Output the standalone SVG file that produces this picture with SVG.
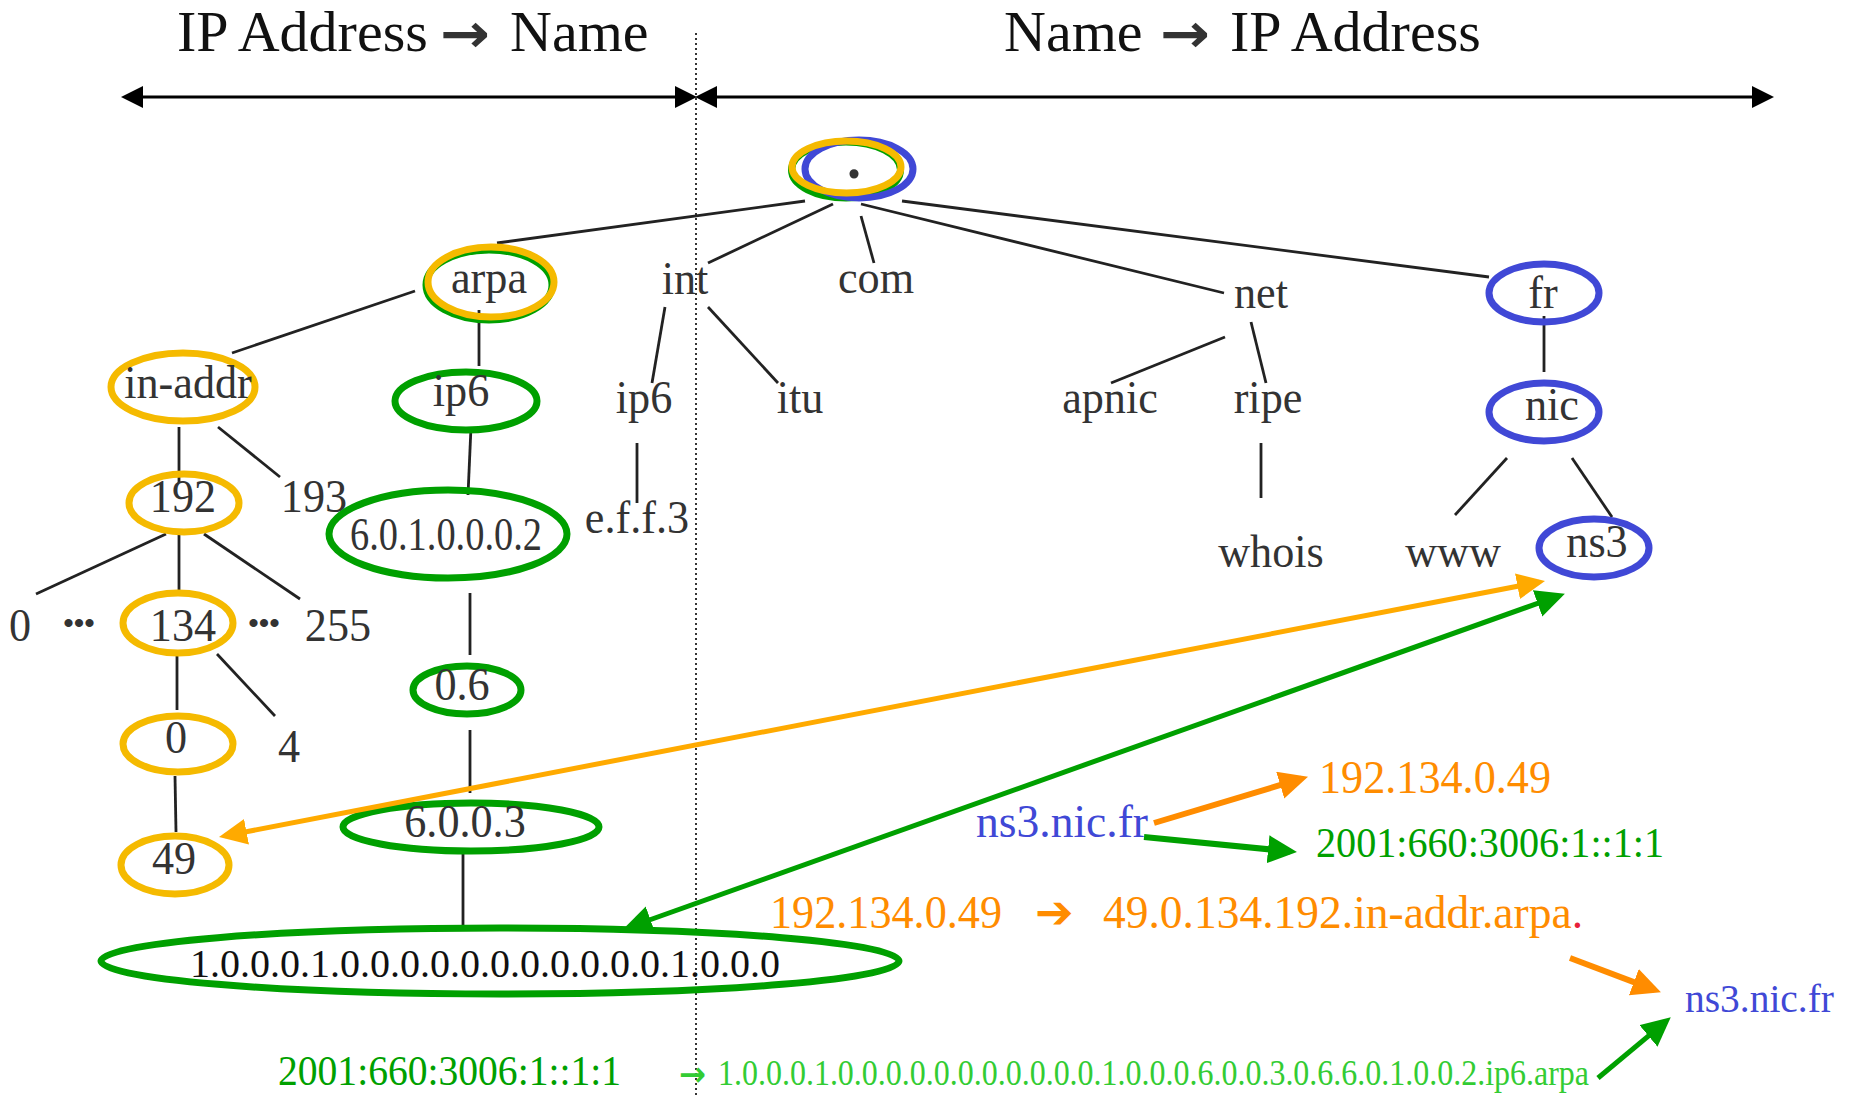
<svg xmlns="http://www.w3.org/2000/svg" width="1854" height="1095" viewBox="0 0 1854 1095">
<style>
.lbl{font-family:"Liberation Serif","Times New Roman",serif;font-size:47px;fill:#333;text-anchor:middle;transform-box:fill-box;transform-origin:center;transform:scaleX(0.94)}
.nt{font-family:"Liberation Serif","Times New Roman",serif;font-size:47px;fill:#333;text-anchor:middle}
.ttl{font-family:"Liberation Serif","Times New Roman",serif;font-size:58px;fill:#111}
.arw{font-family:"DejaVu Sans",sans-serif;font-weight:bold;font-size:54px;fill:#333}
.dots{font-family:"Liberation Serif",serif;font-size:30px;font-weight:bold;fill:#333;text-anchor:middle}
.edge{stroke:#222;stroke-width:2.8;fill:none}
.ye{fill:none;stroke:#F5BA00;stroke-width:7}
.ge{fill:none;stroke:#00A000;stroke-width:7}
.be{fill:none;stroke:#4048D6;stroke-width:7}
.ser{font-family:"Liberation Serif","Times New Roman",serif}
</style>
<defs>
<marker id="mk-black" markerUnits="userSpaceOnUse" markerWidth="24" markerHeight="24" refX="18" refY="11" orient="auto-start-reverse"><path d="M0,0 L22,11 L0,22 z" fill="#000"/></marker>
<marker id="mk-orange" markerUnits="userSpaceOnUse" markerWidth="30" markerHeight="28" refX="22" refY="13" orient="auto-start-reverse"><path d="M0,0 L28,13 L0,26 z" fill="#FFAA00"/></marker>
<marker id="mk-dorange" markerUnits="userSpaceOnUse" markerWidth="30" markerHeight="30" refX="22" refY="14" orient="auto-start-reverse"><path d="M0,0 L29,14 L0,28 z" fill="#FF8C00"/></marker>
<marker id="mk-green" markerUnits="userSpaceOnUse" markerWidth="30" markerHeight="30" refX="22" refY="14" orient="auto-start-reverse"><path d="M0,0 L29,14 L0,28 z" fill="#00A000"/></marker>
</defs>
<rect width="1854" height="1095" fill="#fff"/>

<g id="titles">
<text class="ttl" x="177" y="51">IP Address</text>
<text class="arw" x="440" y="52" textLength="50" lengthAdjust="spacingAndGlyphs">→</text>
<text class="ttl" x="510" y="51">Name</text>
<text class="ttl" x="1004" y="51" fill="#333">Name</text>
<text class="arw" x="1160" y="52" textLength="50" lengthAdjust="spacingAndGlyphs">→</text>
<text class="ttl" x="1230" y="51">IP Address</text>
</g>

<g id="frame">
<line x1="696" y1="33" x2="696" y2="1095" stroke="#333" stroke-width="2" stroke-dasharray="2 3"/>
<line x1="125" y1="97" x2="693" y2="97" stroke="#000" stroke-width="3" marker-start="url(#mk-black)" marker-end="url(#mk-black)"/>
<line x1="699" y1="97" x2="1770" y2="97" stroke="#000" stroke-width="3" marker-start="url(#mk-black)" marker-end="url(#mk-black)"/>
</g>

<g id="connectors">
<line class="edge" x1="805" y1="201" x2="497" y2="243"/>
<line class="edge" x1="833" y1="204" x2="708" y2="263"/>
<line class="edge" x1="861" y1="216" x2="874" y2="263"/>
<line class="edge" x1="861" y1="204" x2="1224" y2="293"/>
<line class="edge" x1="902" y1="201" x2="1489" y2="277"/>
<line class="edge" x1="415" y1="291" x2="232" y2="353"/>
<line class="edge" x1="479" y1="310" x2="479" y2="366"/>
<line class="edge" x1="179" y1="427" x2="179" y2="483"/>
<line class="edge" x1="218" y1="427" x2="280" y2="477"/>
<line class="edge" x1="471" y1="427" x2="468" y2="495"/>
<line class="edge" x1="665" y1="307" x2="652" y2="383"/>
<line class="edge" x1="708" y1="307" x2="778" y2="383"/>
<line class="edge" x1="637" y1="443" x2="637" y2="503"/>
<line class="edge" x1="166" y1="534" x2="36" y2="594"/>
<line class="edge" x1="179" y1="534" x2="179" y2="590"/>
<line class="edge" x1="204" y1="534" x2="300" y2="599"/>
<line class="edge" x1="470" y1="593" x2="470" y2="655"/>
<line class="edge" x1="177" y1="655" x2="177" y2="710"/>
<line class="edge" x1="217" y1="654" x2="275" y2="716"/>
<line class="edge" x1="175" y1="776" x2="176" y2="832"/>
<line class="edge" x1="470" y1="730" x2="470" y2="793"/>
<line class="edge" x1="463" y1="851" x2="463" y2="928"/>
<line class="edge" x1="1225" y1="337" x2="1111" y2="383"/>
<line class="edge" x1="1251" y1="322" x2="1266" y2="383"/>
<line class="edge" x1="1261" y1="443" x2="1261" y2="498"/>
<line class="edge" x1="1544" y1="316" x2="1544" y2="372"/>
<line class="edge" x1="1507" y1="458" x2="1455" y2="515"/>
<line class="edge" x1="1572" y1="458" x2="1612" y2="517"/>
</g>

<g id="n-root">
<ellipse class="ge" cx="846" cy="170" rx="54.5" ry="28"/>
<ellipse class="be" cx="859" cy="169" rx="54" ry="29"/>
<ellipse class="ye" cx="846.5" cy="167" rx="54.5" ry="26"/>
<text class="nt" x="854" y="178" style="font-size:56px;font-weight:bold">.</text>
</g>
<g id="n-arpa">
<ellipse class="ge" cx="489" cy="285" rx="63" ry="35"/>
<ellipse class="ye" cx="491" cy="282" rx="63" ry="35"/>
<text class="lbl" x="489" y="293">arpa</text>
</g>
<g id="n-int"><text class="lbl" x="685" y="294">int</text></g>
<g id="n-com"><text class="lbl" x="876" y="293">com</text></g>
<g id="n-net"><text class="lbl" x="1261" y="308">net</text></g>
<g id="n-fr">
<ellipse class="be" cx="1544" cy="293" rx="55" ry="29"/>
<text class="lbl" x="1543" y="308">fr</text>
</g>
<g id="n-inaddr">
<ellipse class="ye" cx="183" cy="387" rx="72" ry="34"/>
<text class="lbl" x="188" y="398">in-addr</text>
</g>
<g id="n-ip6a">
<ellipse class="ge" cx="466" cy="401" rx="71" ry="29"/>
<text class="lbl" x="461" y="406">ip6</text>
</g>
<g id="n-ip6b"><text class="lbl" x="644" y="413">ip6</text></g>
<g id="n-itu"><text class="lbl" x="800" y="413">itu</text></g>
<g id="n-apnic"><text class="lbl" x="1110" y="413">apnic</text></g>
<g id="n-ripe"><text class="lbl" x="1268" y="413">ripe</text></g>
<g id="n-nic">
<ellipse class="be" cx="1544" cy="412" rx="55" ry="29"/>
<text class="lbl" x="1552" y="420">nic</text>
</g>
<g id="n-192">
<ellipse class="ye" cx="184" cy="503" rx="55" ry="29"/>
<text class="lbl" x="183" y="512">192</text>
</g>
<g id="n-193"><text class="lbl" x="314" y="512">193</text></g>
<g id="n-60100002">
<ellipse class="ge" cx="448" cy="534" rx="119" ry="44"/>
<text class="nt" x="446" y="550" textLength="192" lengthAdjust="spacingAndGlyphs">6.0.1.0.0.0.2</text>
</g>
<g id="n-eff3"><text class="lbl" x="637" y="533">e.f.f.3</text></g>
<g id="n-whois"><text class="lbl" x="1271" y="567">whois</text></g>
<g id="n-www"><text class="lbl" x="1453" y="567">www</text></g>
<g id="n-ns3">
<ellipse class="be" cx="1594" cy="548" rx="55" ry="29"/>
<text class="lbl" x="1597" y="557">ns3</text>
</g>
<g id="n-0a"><text class="lbl" x="20" y="641">0</text></g>
<g id="n-dots1"><text class="dots" x="79" y="633">•••</text></g>
<g id="n-134">
<ellipse class="ye" cx="178" cy="623" rx="55" ry="30"/>
<text class="lbl" x="183" y="641">134</text>
</g>
<g id="n-dots2"><text class="dots" x="264" y="633">•••</text></g>
<g id="n-255"><text class="lbl" x="338" y="641">255</text></g>
<g id="n-06">
<ellipse class="ge" cx="467" cy="690" rx="54" ry="24"/>
<text class="lbl" x="462" y="700">0.6</text>
</g>
<g id="n-0b">
<ellipse class="ye" cx="178" cy="744" rx="55" ry="28"/>
<text class="lbl" x="176" y="753">0</text>
</g>
<g id="n-4"><text class="lbl" x="289" y="762">4</text></g>
<g id="n-6003">
<ellipse class="ge" cx="471" cy="827" rx="128" ry="24"/>
<text class="lbl" x="465" y="837">6.0.0.3</text>
</g>
<g id="n-49">
<ellipse class="ye" cx="175" cy="865" rx="54" ry="29"/>
<text class="lbl" x="174" y="874">49</text>
</g>
<g id="n-big">
<ellipse class="ge" cx="500" cy="961" rx="399" ry="33"/>
<text class="nt" x="485" y="977" style="font-size:41px;fill:#111" textLength="590" lengthAdjust="spacingAndGlyphs">1.0.0.0.1.0.0.0.0.0.0.0.0.0.0.0.1.0.0.0</text>
</g>

<g id="lookup-arrows">
<line x1="224.9" y1="835.9" x2="1539.1" y2="582.1" stroke="#FFAA00" stroke-width="5" marker-start="url(#mk-orange)" marker-end="url(#mk-orange)"/>
<line x1="629.7" y1="927" x2="1558.3" y2="596" stroke="#00A000" stroke-width="5" marker-start="url(#mk-green)" marker-end="url(#mk-green)"/>
<line x1="1154" y1="823" x2="1301.3" y2="778.7" stroke="#FF8C00" stroke-width="6" marker-end="url(#mk-dorange)"/>
<line x1="1144" y1="837" x2="1290" y2="851.4" stroke="#00A000" stroke-width="6" marker-end="url(#mk-green)"/>
<line x1="1570" y1="958" x2="1654.4" y2="989.9" stroke="#FF8C00" stroke-width="6" marker-end="url(#mk-dorange)"/>
<line x1="1598" y1="1078" x2="1665.4" y2="1021.8" stroke="#00A000" stroke-width="5" marker-end="url(#mk-green)"/>
</g>

<g id="examples">
<text class="ser" x="976" y="837" style="font-size:46px" fill="#4048D6" textLength="172" lengthAdjust="spacingAndGlyphs">ns3.nic.fr</text>
<text class="ser" x="1319" y="793" style="font-size:46px" fill="#FF8C00" textLength="232" lengthAdjust="spacingAndGlyphs">192.134.0.49</text>
<text class="ser" x="1316" y="857" style="font-size:42px" fill="#00A000" textLength="348" lengthAdjust="spacingAndGlyphs">2001:660:3006:1::1:1</text>
<text class="ser" x="770" y="928" style="font-size:46px" fill="#FF8C00" textLength="232" lengthAdjust="spacingAndGlyphs">192.134.0.49</text>
<text x="1035" y="928" style="font-family:'DejaVu Sans',sans-serif;font-size:46px" fill="#FF8C00">➔</text>
<text class="ser" x="1103" y="928" style="font-size:46px" fill="#FF8C00" textLength="480" lengthAdjust="spacingAndGlyphs">49.0.134.192.in-addr.arpa<tspan fill="#E8203A">.</tspan></text>
<text class="ser" x="1685" y="1012" style="font-size:41px" fill="#4048D6" textLength="149" lengthAdjust="spacingAndGlyphs">ns3.nic.fr</text>
<text class="ser" x="278" y="1085" style="font-size:42px" fill="#00A000" textLength="343" lengthAdjust="spacingAndGlyphs">2001:660:3006:1::1:1</text>
<text x="679" y="1086" style="font-family:'DejaVu Sans',sans-serif;font-size:34px;font-weight:bold" fill="#33CC33" textLength="27" lengthAdjust="spacingAndGlyphs">→</text>
<text class="ser" x="718" y="1085" style="font-size:35px" fill="#33CC33" textLength="871" lengthAdjust="spacingAndGlyphs">1.0.0.0.1.0.0.0.0.0.0.0.0.0.0.0.1.0.0.0.6.0.0.3.0.6.6.0.1.0.0.2.ip6.arpa</text>
</g>
</svg>
